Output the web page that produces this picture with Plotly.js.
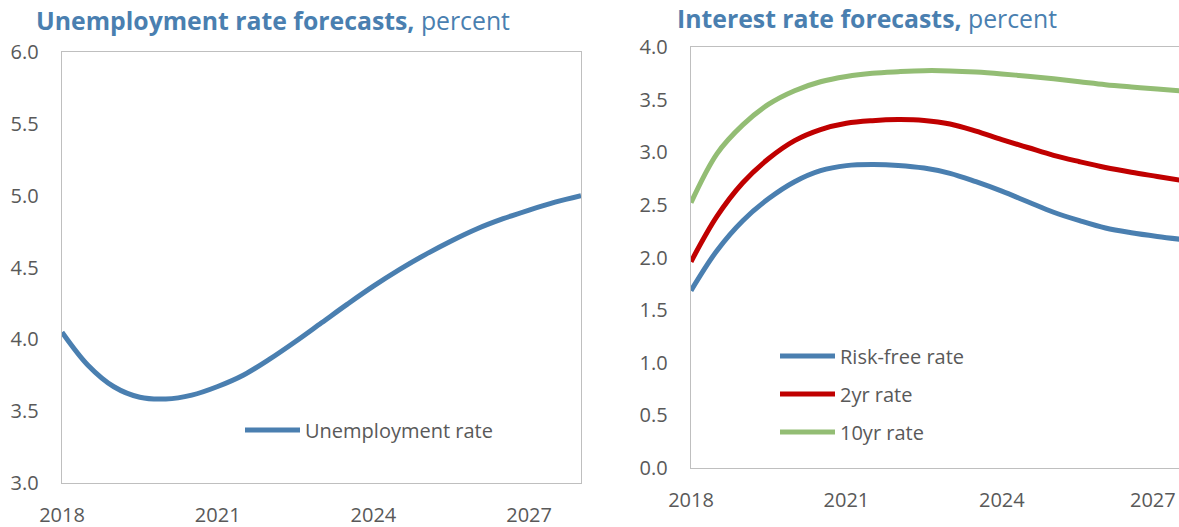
<!DOCTYPE html>
<html>
<head>
<meta charset="utf-8">
<script src="https://cdn.plot.ly/plotly-3.0.1.min.js"></script>
<style>
html,body{margin:0;padding:0;background:#fff;overflow:hidden;}
#chart{width:1179px;height:527px;}
</style>
</head>
<body>
<div id="chart"></div>
<script>
// ---- data ----
const unempYears = [2018, 2018.5, 2019, 2019.5, 2020, 2020.5, 2021, 2021.5, 2022, 2022.5, 2023, 2023.5, 2024, 2024.5, 2025, 2025.5, 2026, 2026.5, 2027, 2027.5, 2028];
const unempRate  = [4.05, 3.82, 3.67, 3.597, 3.585, 3.612, 3.672, 3.752, 3.862, 3.985, 4.115, 4.245, 4.37, 4.485, 4.59, 4.685, 4.77, 4.84, 4.90, 4.955, 5.00];

const rateYears = [2018, 2018.5, 2019, 2019.5, 2020, 2020.5, 2021, 2021.5, 2022, 2022.5, 2023, 2023.5, 2024, 2024.5, 2025, 2025.5, 2026, 2026.5, 2027, 2027.5];
const riskFree  = [1.685, 2.065, 2.35, 2.56, 2.72, 2.825, 2.873, 2.883, 2.875, 2.85, 2.80, 2.72, 2.63, 2.53, 2.43, 2.35, 2.28, 2.235, 2.20, 2.17];
const twoYr     = [1.96, 2.39, 2.71, 2.94, 3.11, 3.215, 3.275, 3.30, 3.31, 3.302, 3.268, 3.20, 3.12, 3.045, 2.97, 2.91, 2.855, 2.81, 2.77, 2.73];
const tenYr     = [2.52, 2.985, 3.26, 3.457, 3.585, 3.67, 3.72, 3.75, 3.765, 3.775, 3.773, 3.762, 3.744, 3.722, 3.698, 3.67, 3.642, 3.62, 3.60, 3.58];

const xTicks = [2018, 2021, 2024, 2027];
const xTickLabels = ['2018', '2021', '2024', '2027'];
// right panel: last label sits at the page edge, drawn as an edge-anchored label
const xTickLabelsRight = ['2018', '2021', '2024', ''];
const lastRightLabel = '2027';

const leftTitleBold = 'Unemployment rate forecasts,';
const rightTitleBold = 'Interest rate forecasts,';
const titleUnit = 'percent';

// ---- styles ----
const W = 1179, H = 527;
const FONT = '"Open Sans", "Noto Sans", sans-serif';
const TXT = '#595959';
const AX = '#BFBFBF';
const BLUE = '#4A7FB0', RED = '#C00000', GREEN = '#93BD74';

const traces = [
  {x: unempYears, y: unempRate, name: 'Unemployment rate', type: 'scatter', mode: 'lines',
   line: {color: BLUE, width: 5, shape: 'spline'}, xaxis: 'x', yaxis: 'y', legend: 'legend', hoverinfo: 'skip'},
  {x: rateYears, y: riskFree, name: 'Risk-free rate', type: 'scatter', mode: 'lines',
   line: {color: BLUE, width: 5, shape: 'spline'}, xaxis: 'x2', yaxis: 'y2', legend: 'legend2', legendgroup: 'a', hoverinfo: 'skip'},
  {x: rateYears, y: twoYr, name: '2yr rate', type: 'scatter', mode: 'lines',
   line: {color: RED, width: 5, shape: 'spline'}, xaxis: 'x2', yaxis: 'y2', legend: 'legend2', legendgroup: 'b', hoverinfo: 'skip'},
  {x: rateYears, y: tenYr, name: '10yr rate', type: 'scatter', mode: 'lines',
   line: {color: GREEN, width: 5, shape: 'spline'}, xaxis: 'x2', yaxis: 'y2', legend: 'legend2', legendgroup: 'c', hoverinfo: 'skip'}
];

const xBase = {
  tickmode: 'array', tickvals: xTicks, ticktext: xTickLabels,
  showgrid: false, zeroline: false, showline: true, linecolor: AX, linewidth: 1.3,
  ticks: 'outside', ticklen: 14, tickcolor: 'rgba(0,0,0,0)', ticklabeloverflow: 'allow',
  tickfont: {family: FONT, size: 20, color: TXT}, fixedrange: true
};
const yBase = {
  dtick: 0.5, tickformat: '.1f',
  showgrid: false, zeroline: false, showline: true, linecolor: AX, linewidth: 1.3,
  ticks: 'outside', ticklen: 18, tickcolor: 'rgba(0,0,0,0)',
  tickfont: {family: FONT, size: 20, color: TXT}, fixedrange: true
};

const layout = {
  width: W, height: H,
  margin: {l: 0, r: 0, t: 0, b: 0},
  paper_bgcolor: '#fff', plot_bgcolor: '#fff',
  font: {family: FONT, color: TXT},
  xaxis: Object.assign({}, xBase, {domain: [62 / W, 581 / W], range: [2018, 2028], anchor: 'y', mirror: true}),
  yaxis: Object.assign({}, yBase, {domain: [(H - 483) / H, (H - 52) / H], range: [3, 6], anchor: 'x', mirror: true}),
  xaxis2: Object.assign({}, xBase, {domain: [691 / W, 1], range: [2018, 2027.42], anchor: 'y2', mirror: true,
                                    ticktext: xTickLabelsRight}),
  yaxis2: Object.assign({}, yBase, {domain: [(H - 468) / H, (H - 47) / H], range: [0, 4], anchor: 'x2', mirror: true}),
  showlegend: true,
  legend: {x: 240 / W, xanchor: 'left', y: 1 - 430 / H, yanchor: 'middle',
           bgcolor: 'rgba(0,0,0,0)', font: {family: FONT, size: 20, color: TXT}, itemwidth: 55},
  legend2: {x: 775 / W, xanchor: 'left', y: 1 - 394 / H, yanchor: 'middle',
            bgcolor: 'rgba(0,0,0,0)', font: {family: FONT, size: 20, color: TXT},
            traceorder: 'grouped', tracegroupgap: 9, itemwidth: 55},
  annotations: [
    {xref: 'paper', yref: 'paper', x: 34 / W, y: 1 - 20 / H, xanchor: 'left', yanchor: 'middle', showarrow: false,
     text: '<b>' + leftTitleBold + '</b> ' + titleUnit, font: {family: FONT, size: 24.8, color: BLUE}},
    {xref: 'paper', yref: 'paper', x: 675 / W, y: 1 - 18 / H, xanchor: 'left', yanchor: 'middle', showarrow: false,
     text: '<b>' + rightTitleBold + '</b> ' + titleUnit, font: {family: FONT, size: 24.8, color: BLUE}},
    {xref: 'paper', yref: 'paper', x: 1, y: 1 - 499 / H, xanchor: 'right', yanchor: 'middle', showarrow: false,
     xshift: -1, text: lastRightLabel, font: {family: FONT, size: 20, color: TXT}}
  ]
};

Plotly.newPlot('chart', traces, layout, {displayModeBar: false, staticPlot: true});
</script>
</body>
</html>
